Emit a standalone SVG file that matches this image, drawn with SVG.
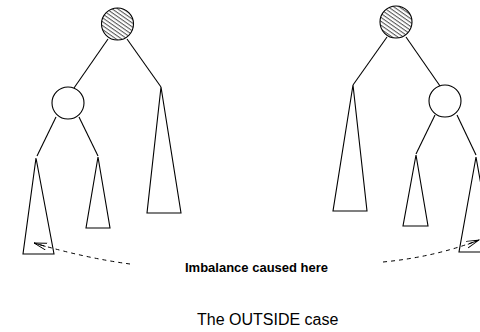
<svg xmlns="http://www.w3.org/2000/svg" width="480" height="332" viewBox="0 0 480 332">
<style>
.ln{stroke:#000;stroke-width:1.1;fill:none}
.nd{stroke:#000;stroke-width:1.1;fill:#fff}
.hat{stroke:#000;stroke-width:1.1;fill:url(#hatch)}
.tri{stroke:#000;stroke-width:1.1;fill:none;stroke-linejoin:miter}
.dash{stroke:#000;stroke-width:1;fill:none;stroke-dasharray:4,4}
.lbl{font-family:"Liberation Sans",Arial,sans-serif;fill:#000}
</style>
<defs>
<pattern id="hatch" patternUnits="userSpaceOnUse" width="3.2" height="3.2" patternTransform="rotate(35)">
<rect width="3.2" height="3.2" fill="#fff"/>
<line x1="0" y1="0.6" x2="3.2" y2="0.6" stroke="#000" stroke-width="0.7"/>
</pattern>
<marker id="arr" markerUnits="userSpaceOnUse" markerWidth="16" markerHeight="10" refX="13" refY="4" orient="auto">
<path d="M0,0.5 L13,4 L0,7.5 M1,4 L13,4" fill="none" stroke="#000" stroke-width="0.9"/>
</marker>
</defs>
<g id="connectors">
<line class="ln" x1="108" y1="39" x2="74" y2="88"/>
<line class="ln" x1="127" y1="39" x2="161" y2="87"/>
<line class="ln" x1="56" y1="117" x2="37" y2="156"/>
<line class="ln" x1="79" y1="117" x2="98" y2="156"/>
<line class="ln" x1="387" y1="37" x2="353" y2="85"/>
<line class="ln" x1="406" y1="37" x2="440" y2="86"/>
<line class="ln" x1="435" y1="115" x2="416" y2="154"/>
<line class="ln" x1="457" y1="115" x2="476" y2="155"/>
<path class="dash" d="M130,264 Q85,258 34,243" marker-end="url(#arr)"/>
<path class="dash" d="M383,262 Q435,257 479,240" marker-end="url(#arr)"/>
</g>
<g id="left-root"><circle class="hat" cx="117.5" cy="24" r="16"/></g>
<g id="left-child"><circle class="nd" cx="68" cy="103" r="16"/></g>
<g id="left-sub-a"><polygon class="tri" points="36,158 23,254 54,254"/></g>
<g id="left-sub-b"><polygon class="tri" points="98,157 86,228 110,228"/></g>
<g id="left-sub-c"><polygon class="tri" points="161,87 147,213 181,213"/></g>
<g id="right-root"><circle class="hat" cx="396" cy="22" r="16"/></g>
<g id="right-child"><circle class="nd" cx="445" cy="101" r="16"/></g>
<g id="right-sub-a"><polygon class="tri" points="353,85 333,211 367,211"/></g>
<g id="right-sub-b"><polygon class="tri" points="416,155 403,226 428,226"/></g>
<g id="right-sub-c"><polygon class="tri" points="476,157 459,252 493,252"/></g>
<text class="lbl" x="185" y="272" font-size="13" font-weight="bold">Imbalance caused here</text>
<text class="lbl" x="197" y="325" font-size="16">The OUTSIDE case</text>
</svg>
